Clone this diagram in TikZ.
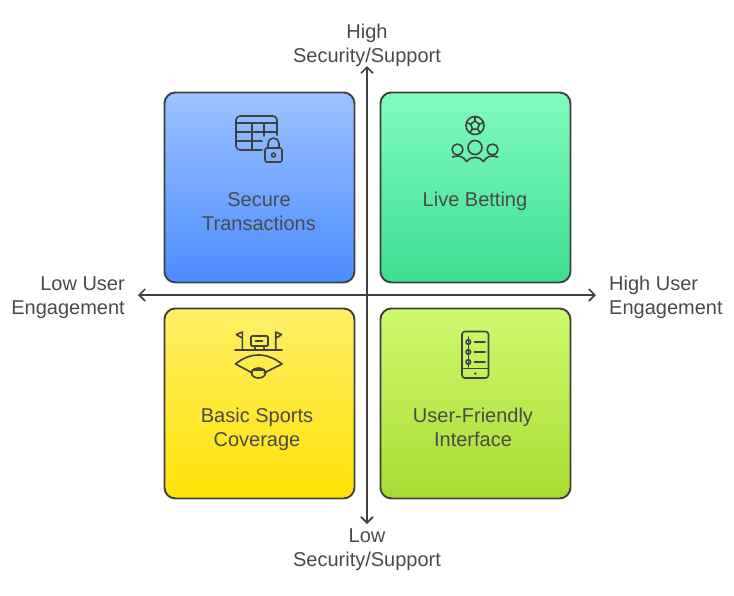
\documentclass[tikz,border=0pt]{standalone}
\usepackage{fontspec}
\setmainfont{Liberation Sans}
\usetikzlibrary{arrows.meta}
\definecolor{ink}{HTML}{4A4A4A}
\definecolor{edge}{HTML}{404040}
\tikzset{
  quad/.style={draw=edge,line width=1.9pt,rounded corners=11pt,minimum width=190pt,minimum height=190pt,inner sep=0pt,anchor=north west},
  lab/.style={text=ink,font=\fontsize{20}{24}\selectfont,align=center,inner sep=0pt},
  axis/.style={draw=edge,line width=1.7pt,{Straight Barb[length=6pt,width=12pt,line width=1.7pt]}-{Straight Barb[length=6pt,width=12pt,line width=1.7pt]}},
  ico/.style={draw=edge,line width=1.6pt,line cap=round,line join=round,fill=none}
}
\begin{document}
\begin{tikzpicture}[x=1pt,y=-1pt]
\useasboundingbox (0,0) rectangle (734,595);
\node[quad,top color={rgb,255:red,157;green,194;blue,255},bottom color={rgb,255:red,74;green,140;blue,255}] (tl) at (163.5,91.5) {};
\node[quad,top color={rgb,255:red,128;green,252;blue,188},bottom color={rgb,255:red,62;green,221;blue,144}] (tr) at (379.5,91.5) {};
\node[quad,top color={rgb,255:red,255;green,239;blue,102},bottom color={rgb,255:red,255;green,226;blue,7}] (bl) at (163.5,307.5) {};
\node[quad,top color={rgb,255:red,205;green,250;blue,110},bottom color={rgb,255:red,168;green,220;blue,50}] (br) at (379.5,307.5) {};

\coordinate (vt) at (367,66);
\coordinate (vb) at (367,524);
\coordinate (hl) at (138,295);
\coordinate (hr) at (596,295);
\draw[axis] (vb) -- (vt);
\draw[axis] (hl) -- (hr);

\node[lab] (t1) at (259,213.2) {\strut Secure\\\strut Transactions};
\node[lab] (t2) at (475,201.2) {\strut Live Betting};
\node[lab] (t3) at (257,429.2) {\strut Basic Sports\\\strut Coverage};
\node[lab] (t4) at (473,429.2) {\strut User-Friendly\\\strut Interface};
\node[lab] (n) at (367,45.2) {\strut High\\\strut Security/Support};
\node[lab] (s) at (367,549.2) {\strut Low\\\strut Security/Support};
\node[lab,align=right,anchor=east] (w) at (125,297.2) {\strut Low User\\\strut Engagement};
\node[lab,align=left,anchor=west] (e) at (609,297.2) {\strut High User\\\strut Engagement};

% table and lock
\draw[ico] (262,150) -- (240,150) arc[start angle=90,end angle=180,radius=4] -- (236,120) arc[start angle=180,end angle=270,radius=4] -- (273,116) arc[start angle=-90,end angle=0,radius=4] -- (277,135);
\draw[ico] (236,123) -- (277,123);
\draw[ico] (236,132) -- (277,132);
\draw[ico] (236,141) -- (262,141);
\draw[ico] (252,123) -- (252,150);
\draw[ico] (264,123) -- (264,136);
\draw[ico,rounded corners=2pt] (265,148) rectangle (282,162);
\draw[ico] (268,148) -- (268,143.5) arc[start angle=180,end angle=0,x radius=5.5,y radius=-5.5] -- (279,148);
\draw[ico] (273.5,155) circle (2);

% ball and people
\draw[ico] (475,125.5) circle (9);
\draw[ico] (475,121) -- (479.3,124.1) -- (477.6,129.1) -- (472.4,129.1) -- (470.7,124.1) -- cycle;
\draw[ico] (475,121) -- (475,116.5) (479.3,124.1) -- (483.6,122.7) (477.6,129.1) -- (480.3,132.8) (472.4,129.1) -- (469.7,132.8) (470.7,124.1) -- (466.4,122.7);
\draw[ico] (475,147.5) circle (7);
\draw[ico] (457.5,149.5) circle (5.5);
\draw[ico] (492.5,149.5) circle (5.5);
\draw[ico] (452.5,157) .. controls (458,154.5) and (464,156.5) .. (466.5,161.5) .. controls (470,156) and (480,156) .. (483.5,161.5) .. controls (486,156.5) and (492,154.5) .. (497.5,157);

% stadium
\draw[ico] (235,350) -- (282,350);
\draw[ico] (242.3,350) -- (242.3,332) -- (236.5,334.5) -- (238.5,336) -- (242.3,338);
\draw[ico] (275.7,350) -- (275.7,332) -- (281.5,334.5) -- (279.5,336) -- (275.7,338);
\draw[ico,rounded corners=1pt] (251,336) rectangle (268,346);
\draw[ico] (255.5,341) -- (262.5,341);
\draw[ico] (255.5,346) -- (254.5,350) (263.5,346) -- (264.5,350);
\draw[ico] (235.5,364) .. controls (250,352) and (267,352) .. (282,364) -- (264,373) (235.5,364) -- (252.5,373);
\draw[ico] (258.5,373) ellipse (7 and 5);
\draw[ico] (252.5,370) -- (264.5,370);

% phone
\draw[ico,rounded corners=3pt] (462,331.5) rectangle (488.5,378);
\draw[ico] (462,368.5) -- (488.5,368.5);
\fill[edge] (475.3,373.5) circle (1.3);
\draw[ico] (468.3,337) -- (468.3,367);
\foreach \yy in {342,352,362}{
  \draw[ico] (468.3,\yy) circle (2.3);
  \draw[ico] (474.5,\yy) -- (485,\yy);
}
\end{tikzpicture}
\end{document}
